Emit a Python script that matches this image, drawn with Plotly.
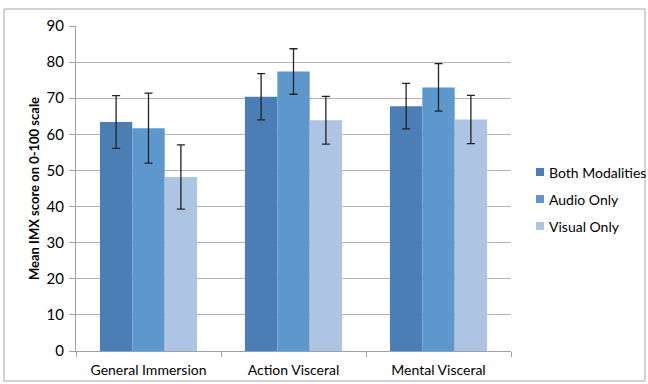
import plotly.graph_objects as go

categories = ["General Immersion", "Action Visceral", "Mental Visceral"]
series_names = ["Both Modalities", "Audio Only", "Visual Only"]
both_vals = [63.4, 70.4, 67.8]
both_err = [7.3, 6.4, 6.3]
audio_vals = [61.7, 77.4, 73.0]
audio_err = [9.7, 6.3, 6.6]
visual_vals = [48.2, 63.9, 64.1]
visual_err = [8.9, 6.6, 6.7]
colors = ["#4a7eb4", "#5e97cc", "#adc4e3"]
y_title = "Mean IMX score on 0-100 scale"

FONT = "Lato, Carlito, 'Open Sans', sans-serif"

L, R, T, B = 76, 511, 26, 351
PW, PH = R - L, B - T

def px(x):
    return (x - L) / PW

def py(y):
    return (B - y) / PH

fig = go.Figure()
for name, vals, errs, col in zip(series_names, [both_vals, audio_vals, visual_vals],
                                 [both_err, audio_err, visual_err], colors):
    fig.add_trace(go.Bar(
        x=categories, y=vals, name=name,
        marker=dict(color=col, line=dict(width=0)),
        error_y=dict(type="data", array=errs, visible=True,
                     color="#222222", thickness=1.3, width=4),
    ))

fig.update_layout(
    width=648, height=384,
    margin=dict(l=L, r=648 - R, t=T, b=384 - B, autoexpand=False),
    paper_bgcolor="white", plot_bgcolor="white",
    barmode="group", bargap=0.33, bargroupgap=0,
    font=dict(family=FONT, size=14, color="#000000"),
    showlegend=False,
    xaxis=dict(showline=True, linecolor="#a0a0a0", linewidth=1,
               ticks="outside", tickson="boundaries", ticklen=5, tickcolor="#a0a0a0",
               ticklabelstandoff=6,
               tickfont=dict(family=FONT, size=14, color="#000"),
               showgrid=False),
    yaxis=dict(range=[0, 90], dtick=10, showline=True, linecolor="#a0a0a0", linewidth=1,
               ticks="outside", ticklen=6, tickcolor="#a0a0a0",
               ticklabelstandoff=2,
               gridcolor="#b4b4b4", gridwidth=1, zeroline=False,
               tickfont=dict(family=FONT, size=15, color="#000"),
               title=dict(text="<b>" + y_title + "</b>", standoff=4,
                          font=dict(family=FONT, size=13, color="#000"))),
)

# outer chart border
fig.add_shape(type="rect", xref="paper", yref="paper",
              x0=px(4), x1=px(645), y0=py(381), y1=py(9),
              line=dict(color="#a6a6a6", width=1), layer="below")

# custom legend (Excel-style small squares)
legend_y = [172, 199, 226]
for name, col, ly in zip(series_names, colors, legend_y):
    fig.add_shape(type="rect", xref="paper", yref="paper",
                  x0=px(536), x1=px(544), y0=py(ly + 4), y1=py(ly - 4),
                  fillcolor=col, line=dict(width=0))
    fig.add_annotation(xref="paper", yref="paper", x=px(547), y=py(ly),
                       text=name, showarrow=False, xanchor="left", yanchor="middle",
                       font=dict(family=FONT, size=14, color="#000"))

fig.write_html("out.html", config={"displayModeBar": False},
               post_script="document.body.style.margin='0';")
